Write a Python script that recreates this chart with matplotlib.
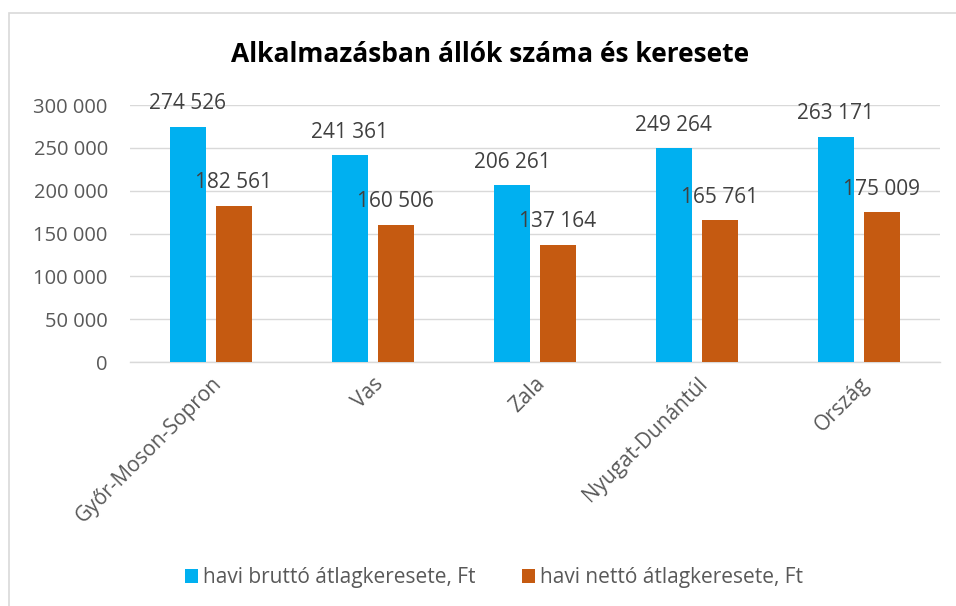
import numpy as np
import matplotlib.pyplot as plt
from matplotlib.patches import Rectangle

plt.rcParams['font.family'] = ['Open Sans', 'DejaVu Sans']

categories = ['Győr-Moson-Sopron', 'Vas', 'Zala', 'Nyugat-Dunántúl', 'Ország']
brutto = [274526, 241361, 206261, 249264, 263171]
netto = [182561, 160506, 137164, 165761, 175009]
series_names = ['havi bruttó átlagkeresete, Ft', 'havi nettó átlagkeresete, Ft']
yticks = [0, 50000, 100000, 150000, 200000, 250000, 300000]


def fmt(v):
    return f'{v:,}'.replace(',', ' ')


fig = plt.figure(figsize=(9.56, 6.06), dpi=100)
fig.patches.append(Rectangle((9 / 956, -0.1), 1.2, 1 - 13 / 606 + 0.1,
                             transform=fig.transFigure, fill=False,
                             edgecolor='#D9D9D9', linewidth=1.2))
ax = fig.add_axes([0.136, 0.4026, 0.847, 0.4241])

x = np.arange(len(categories))
w = 0.222
off = 0.142
b1 = ax.bar(x - off, brutto, w, color='#00B0F0', label=series_names[0], zorder=3)
b2 = ax.bar(x + off, netto, w, color='#C55A11', label=series_names[1], zorder=3)

for bars, vals in ((b1, brutto), (b2, netto)):
    for r, v in zip(bars, vals):
        ax.annotate(fmt(v), (r.get_x() + r.get_width() / 2, v),
                    xytext=(0, 9), textcoords='offset points',
                    ha='center', va='bottom', fontsize=15, color='#404040')

ax.set_xlim(-0.5, len(categories) - 0.5)
ax.set_ylim(0, 300000)
ax.set_yticks(yticks)
ax.set_yticklabels([fmt(v) for v in yticks], fontsize=14.5, color='#595959')
ax.set_xticks(x)
ax.set_xticklabels(categories, rotation=45, ha='right', va='top',
                   rotation_mode='anchor', fontsize=15, color='#595959')
ax.tick_params(axis='y', length=0, pad=16)
ax.tick_params(axis='x', length=0, pad=8)
ax.grid(axis='y', color='#D9D9D9', linewidth=1, zorder=0)
for s in ['top', 'right', 'left']:
    ax.spines[s].set_visible(False)
ax.spines['bottom'].set_color('#D9D9D9')
ax.spines['bottom'].set_linewidth(1)

fig.text(490 / 956, 1 - 55 / 606, 'Alkalmazásban állók száma és keresete',
         ha='center', va='center', fontsize=19, fontweight='bold', color='black')

fig.legend(handles=[b1, b2], loc='center', bbox_to_anchor=(494 / 956, 1 - 578 / 606),
           ncol=2, frameon=False, fontsize=15, labelcolor='#595959',
           handlelength=0.65, handleheight=0.65, handletextpad=0.25, columnspacing=2.2)

fig.savefig('out.png', dpi=100)
